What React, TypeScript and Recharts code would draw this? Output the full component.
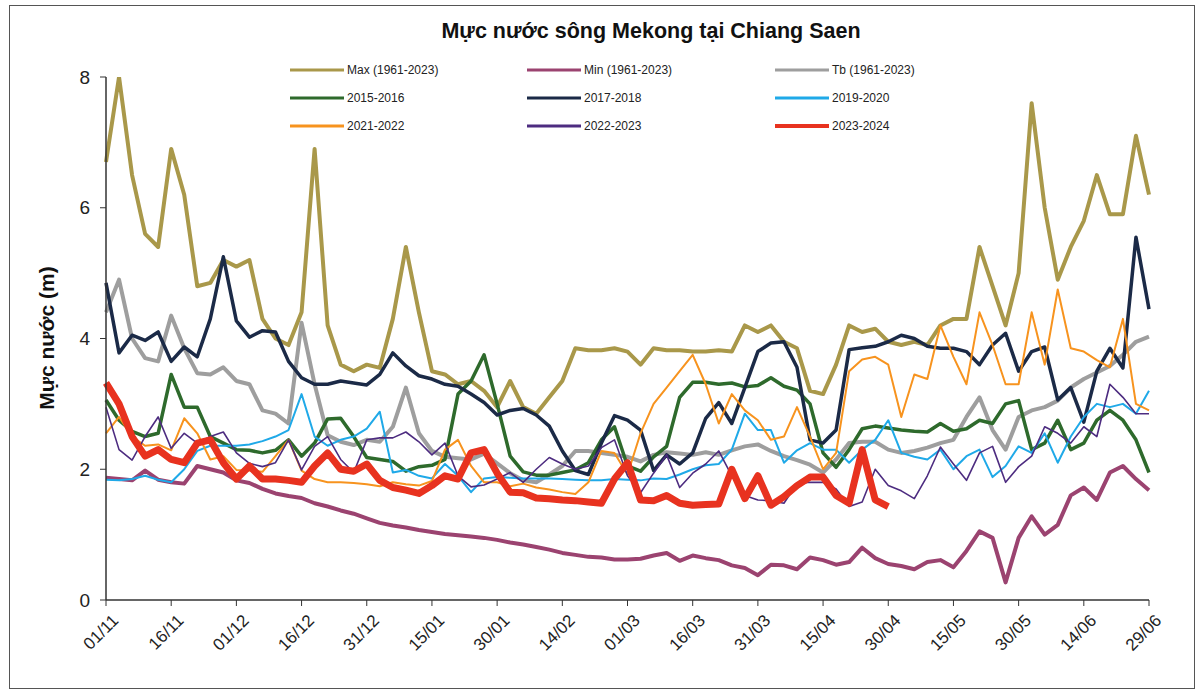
import React from 'react';
import { LineChart, Line, XAxis, YAxis, Legend } from 'recharts';

const dates = [
  '01/11','04/11','07/11','10/11','13/11','16/11','19/11','22/11','25/11','28/11',
  '01/12','04/12','07/12','10/12','13/12','16/12','19/12','22/12','25/12','28/12','31/12',
  '03/01','06/01','09/01','12/01','15/01','18/01','21/01','24/01','27/01','30/01',
  '02/02','05/02','08/02','11/02','14/02','17/02','20/02','23/02','26/02',
  '01/03','04/03','07/03','10/03','13/03','16/03','19/03','22/03','25/03','28/03','31/03',
  '03/04','06/04','09/04','12/04','15/04','18/04','21/04','24/04','27/04','30/04',
  '03/05','06/05','09/05','12/05','15/05','18/05','21/05','24/05','27/05','30/05',
  '02/06','05/06','08/06','11/06','14/06','17/06','20/06','23/06','26/06','29/06'
];

const tickDates = ['01/11','16/11','01/12','16/12','31/12','15/01','30/01','14/02','01/03','16/03','31/03','15/04','30/04','15/05','30/05','14/06','29/06'];
const yTicks = [0, 2, 4, 6, 8];

const maxValues = [
  6.7, 8.0, 6.5, 5.6, 5.4, 6.9, 6.2, 4.8, 4.85, 5.2,
  5.1, 5.2, 4.3, 4.0, 3.9, 4.4, 6.9, 4.2, 3.6, 3.5,
  3.6, 3.55, 4.3, 5.4, 4.4, 3.5, 3.45, 3.3, 3.35, 3.2,
  2.95, 3.35, 2.95, 2.85, 3.1, 3.35, 3.85, 3.82, 3.82, 3.85,
  3.8, 3.6, 3.85, 3.82, 3.82, 3.8, 3.8, 3.82, 3.8, 4.2,
  4.1, 4.2, 3.95, 3.85, 3.2, 3.15, 3.6, 4.2, 4.1, 4.15,
  3.95, 3.9, 3.95, 3.9, 4.2, 4.3, 4.3, 5.4, 4.8, 4.2,
  5.0, 7.6, 6.0, 4.9, 5.4, 5.8, 6.5, 5.9, 5.9, 7.1,
  6.2
];

const minValues = [
  1.87, 1.85, 1.83, 1.98, 1.84, 1.8, 1.78, 2.05, 2.0, 1.95,
  1.83, 1.79, 1.7, 1.63, 1.59, 1.56, 1.48, 1.43, 1.37, 1.32,
  1.25, 1.18, 1.14, 1.11, 1.07, 1.04, 1.01, 0.99, 0.97, 0.95,
  0.92, 0.88, 0.85, 0.81, 0.77, 0.72, 0.69, 0.66, 0.65, 0.62,
  0.62, 0.63, 0.68, 0.72, 0.6, 0.68, 0.64, 0.61, 0.53, 0.49,
  0.38, 0.54, 0.53, 0.47, 0.65, 0.61, 0.54, 0.58, 0.8, 0.64,
  0.55, 0.52, 0.47, 0.58, 0.61, 0.5, 0.75, 1.05, 0.95, 0.27,
  0.95, 1.28, 1.0, 1.15, 1.6, 1.72, 1.53, 1.95, 2.05, 1.85,
  1.68
];

const avgValues = [
  4.4, 4.9, 4.0, 3.7, 3.65, 4.35, 3.85, 3.47, 3.45, 3.56,
  3.35, 3.3, 2.9, 2.85, 2.7, 4.24, 3.3, 2.52, 2.42, 2.37,
  2.45, 2.42, 2.65, 3.25, 2.55, 2.28, 2.19, 2.17, 2.15, 2.24,
  2.09, 1.94, 1.83, 1.8, 1.92, 2.05, 2.28, 2.28, 2.25, 2.22,
  2.19, 2.12, 2.22, 2.26, 2.24, 2.22, 2.26, 2.22, 2.29, 2.35,
  2.38, 2.28, 2.2, 2.14, 2.07, 1.95, 2.15, 2.4, 2.42, 2.42,
  2.3, 2.25, 2.28, 2.33, 2.4, 2.45, 2.8, 3.1, 2.6, 2.3,
  2.8, 2.9, 2.95, 3.05, 3.25, 3.38, 3.48, 3.58, 3.75, 3.95,
  4.03
];

const y2015 = [
  3.06, 2.75, 2.58, 2.5, 2.55, 3.45, 2.95, 2.95, 2.5, 2.4,
  2.3, 2.29, 2.25, 2.29, 2.45, 2.2, 2.4, 2.77, 2.78, 2.5,
  2.18, 2.15, 2.12, 1.97, 2.04, 2.06, 2.15, 3.15, 3.35, 3.75,
  3.0, 2.2, 1.96, 1.91, 1.91, 1.95, 1.99, 2.1, 2.45, 2.65,
  2.05, 1.97, 2.19, 2.35, 3.1, 3.33, 3.33, 3.3, 3.32, 3.26,
  3.28, 3.4, 3.27, 3.21, 3.0, 2.25, 2.03, 2.3, 2.62, 2.66,
  2.63, 2.6, 2.58, 2.57, 2.7, 2.58, 2.62, 2.75, 2.7, 3.0,
  3.05, 2.3, 2.4, 2.75, 2.3, 2.4, 2.75, 2.9, 2.75, 2.45,
  1.95
];

const y2017 = [
  4.85, 3.78, 4.05, 3.97, 4.1, 3.65, 3.87, 3.72, 4.3, 5.25,
  4.27, 4.02, 4.12, 4.1, 3.65, 3.4, 3.3, 3.3, 3.35, 3.32,
  3.29, 3.45, 3.78, 3.58, 3.43, 3.38, 3.3, 3.27, 3.15, 3.02,
  2.83, 2.9, 2.93, 2.83, 2.66, 2.28, 1.98, 1.92, 2.4, 2.82,
  2.75, 2.6, 1.98, 2.22, 2.08, 2.25, 2.78, 3.02, 2.7, 3.25,
  3.8, 3.93, 3.95, 3.56, 2.45, 2.4, 2.6, 3.83, 3.86, 3.88,
  3.95, 4.05, 4.0, 3.88, 3.85, 3.85, 3.8, 3.6, 3.9, 4.08,
  3.5, 3.8, 3.87, 3.06, 3.25, 2.72, 3.5, 3.85, 3.55, 5.55,
  4.45
];

const y2019 = [
  1.84, 1.83, 1.85, 1.9, 1.84, 1.8, 2.0, 2.28, 2.36, 2.36,
  2.36, 2.38, 2.43, 2.5, 2.6, 3.15, 2.5, 2.36, 2.45, 2.5,
  2.62, 2.88, 1.95, 1.99, 1.9, 1.86, 2.08, 1.9, 1.65, 1.86,
  1.88, 1.87, 1.86, 1.86, 1.86, 1.85, 1.84, 1.83, 1.83, 1.85,
  1.84, 1.83, 1.86, 1.85, 1.92, 2.0, 2.06, 2.08, 2.3, 2.85,
  2.6, 2.6, 2.1, 2.29, 2.4, 2.3, 2.3, 2.1, 2.3, 2.45,
  2.75, 2.25, 2.19, 2.15, 2.3, 2.0, 2.2, 2.3, 1.88, 2.05,
  2.35, 2.25, 2.55, 2.1, 2.5, 2.8, 3.0, 2.95, 3.0, 2.85,
  3.2
];

const y2021 = [
  2.55, 2.8, 2.5, 2.36, 2.38, 2.29, 2.78, 2.55, 2.15, 2.2,
  1.99, 1.98, 1.96, 2.2, 2.45, 1.98, 1.85, 1.8, 1.8, 1.79,
  1.77, 1.74, 1.8, 1.77, 1.75, 1.82, 2.3, 2.45, 2.05, 1.8,
  1.8, 1.74, 1.78, 1.72, 1.69, 1.65, 1.62, 1.8, 2.28, 2.25,
  1.92, 2.55, 3.0, 3.25, 3.5, 3.75, 3.3, 2.7, 3.15, 2.9,
  2.75, 2.45, 2.5, 2.95, 2.5, 2.0, 2.25, 3.5, 3.68, 3.72,
  3.6, 2.8, 3.45, 3.38, 4.2, 3.72, 3.3, 4.4, 3.9, 3.3,
  3.3, 4.4, 3.6, 4.75, 3.85, 3.8, 3.67, 3.56, 4.3, 3.0,
  2.9
];

const y2022 = [
  2.95, 2.3, 2.14, 2.5, 2.8, 2.32, 2.55, 2.4, 2.5, 2.57,
  2.25, 2.09, 2.04, 2.1, 2.45, 1.99, 2.35, 2.5, 2.15, 1.95,
  2.45, 2.48, 2.48, 2.57, 2.42, 2.22, 2.4, 1.9, 1.73, 1.76,
  1.85, 1.95, 1.8, 2.0, 2.18, 2.08, 2.0, 2.05, 2.33, 2.45,
  1.9, 1.64, 1.94, 2.22, 1.72, 1.94, 2.08, 2.28, 1.9, 1.6,
  1.53, 1.52, 1.48, 1.78, 1.8, 1.8, 1.7, 1.43, 1.5, 2.0,
  1.75, 1.67, 1.55, 1.9, 2.34, 2.08, 1.83, 2.25, 2.35, 1.8,
  2.04, 2.2, 2.65, 2.55, 2.4, 2.65, 2.5, 3.3, 3.1, 2.85,
  2.85
];

const y2023 = [
  3.32, 3.0, 2.5, 2.2, 2.3, 2.15, 2.1, 2.4, 2.45, 2.1,
  1.85, 2.05, 1.85, 1.85, 1.83, 1.8, 2.05, 2.25, 2.0, 1.97,
  2.08, 1.83, 1.72, 1.68, 1.63, 1.75, 1.9, 1.85, 2.25, 2.3,
  1.94, 1.65, 1.64, 1.56, 1.55, 1.53, 1.52, 1.5, 1.48, 1.85,
  2.1, 1.53, 1.52, 1.6, 1.48, 1.45, 1.46, 1.47, 2.0, 1.55,
  1.9, 1.45, 1.58, 1.75, 1.88, 1.88, 1.6, 1.48, 2.3, 1.53,
  1.43
];

const FONT = '"Liberation Sans", Arial, Helvetica, sans-serif';

const series = [
  { key: 'max', name: 'Max (1961-2023)', color: '#A9984A', width: 4, values: maxValues },
  { key: 'min', name: 'Min (1961-2023)', color: '#9B4370', width: 4, values: minValues },
  { key: 'tb', name: 'Tb (1961-2023)', color: '#9E9E9E', width: 4, values: avgValues },
  { key: 'y2015', name: '2015-2016', color: '#2E6A2C', width: 3.5, values: y2015 },
  { key: 'y2017', name: '2017-2018', color: '#1B2A47', width: 3.5, values: y2017 },
  { key: 'y2019', name: '2019-2020', color: '#1FA9E8', width: 2, values: y2019 },
  { key: 'y2021', name: '2021-2022', color: '#F7931E', width: 2, values: y2021 },
  { key: 'y2022', name: '2022-2023', color: '#4D2C80', width: 1.6, values: y2022 },
  { key: 'y2023', name: '2023-2024', color: '#E8321F', width: 7, values: y2023 },
];

const data = dates.map((date, i) => {
  const row: Record<string, any> = { date };
  series.forEach((s) => {
    row[s.key] = i < s.values.length ? s.values[i] : null;
  });
  return row;
});

const legendCols = [290, 527, 775];
const legendRows = [70, 98, 126];

const renderLegend = () => (
  <div style={{ position: 'relative', width: 1204, height: 140 }}>
    {series.map((s, i) => {
      const left = legendCols[i % 3];
      const top = legendRows[Math.floor(i / 3)];
      return (
        <div
          key={s.key}
          style={{
            position: 'absolute',
            left,
            top: top - 9,
            height: 18,
            display: 'flex',
            alignItems: 'center',
            fontFamily: FONT,
            fontSize: 12,
            color: '#222',
            whiteSpace: 'nowrap',
          }}
        >
          <svg width={54} height={8} style={{ display: 'block' }}>
            <line x1={0} y1={4} x2={54} y2={4} stroke={s.color} strokeWidth={s.width > 4 ? 4 : 3} />
          </svg>
          <span style={{ marginLeft: 3 }}>{s.name}</span>
        </div>
      );
    })}
  </div>
);

const XTick = (props: any) => {
  const { x, y, payload } = props;
  return (
    <g transform={`translate(${x + 5},${y + 5})`}>
      <text
        x={0}
        y={0}
        dy="0.71em"
        textAnchor="end"
        transform="rotate(-45)"
        fontFamily={FONT}
        fontSize={17}
        fill="#222"
      >
        {payload.value}
      </text>
    </g>
  );
};

const YTitle = () => (
  <text
    x={46}
    y={338}
    transform="rotate(-90 46 338)"
    textAnchor="middle"
    dominantBaseline="central"
    fontFamily={FONT}
    fontSize={21}
    fontWeight="bold"
    fill="#111"
  >
    Mực nước (m)
  </text>
);

export default function App() {
  return (
    <div
      style={{
        position: 'absolute',
        left: 0,
        top: 0,
        width: 1204,
        height: 700,
        background: '#ffffff',
        overflow: 'hidden',
      }}
    >
      <div
        style={{
          position: 'absolute',
          left: 9,
          top: 5,
          width: 1186,
          height: 684,
          border: '1px solid #555',
          boxSizing: 'border-box',
        }}
      />
      <div
        style={{
          position: 'absolute',
          left: 0,
          top: 17,
          width: 1302,
          textAlign: 'center',
          fontFamily: FONT,
          fontSize: 21.5,
          fontWeight: 'bold',
          color: '#111',
          lineHeight: '28px',
        }}
      >
        Mực nước sông Mekong tại Chiang Saen
      </div>
      <LineChart
        width={1204}
        height={700}
        data={data}
        margin={{ top: 77, right: 55, bottom: 40, left: 46 }}
      >
        <XAxis
          dataKey="date"
          ticks={tickDates}
          interval={0}
          tick={<XTick />}
          tickSize={6}
          height={60}
          axisLine={{ stroke: '#333', strokeWidth: 1.5 }}
          tickLine={{ stroke: '#333' }}
        />
        <YAxis
          domain={[0, 8]}
          ticks={yTicks}
          width={60}
          tickSize={6}
          tickMargin={10}
          axisLine={{ stroke: '#333', strokeWidth: 1.5 }}
          tickLine={{ stroke: '#333' }}
          tick={{ fontFamily: FONT, fontSize: 19, fill: '#222' }}
          label={<YTitle />}
          allowDataOverflow
        />
        <Legend
          layout="horizontal"
          verticalAlign="middle"
          align="center"
          content={renderLegend}
          wrapperStyle={{ position: 'absolute', left: 0, top: 0, width: 1204, height: 140 }}
        />
        {series.map((s) => (
          <Line
            key={s.key}
            type="linear"
            dataKey={s.key}
            name={s.name}
            stroke={s.color}
            strokeWidth={s.width}
            strokeLinejoin="round"
            dot={false}
            activeDot={false}
            isAnimationActive={false}
            connectNulls={false}
          />
        ))}
      </LineChart>
    </div>
  );
}
